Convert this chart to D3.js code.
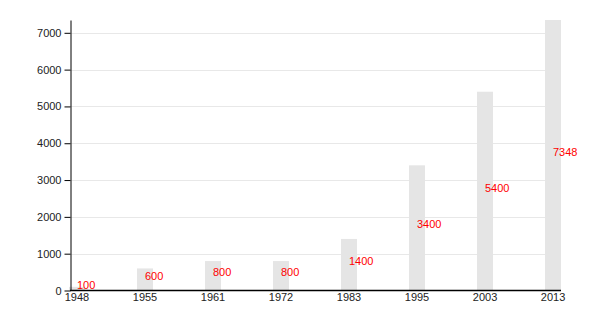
<!DOCTYPE html>
<html>
<head>
<meta charset="utf-8">
<script src="https://cdn.jsdelivr.net/npm/d3@7"></script>
<style>
  body { margin: 0; background: #fff; }
  text { font-family: "Liberation Sans", Arial, sans-serif; }
</style>
</head>
<body>
<script>
var years = ['1948', '1955', '1961', '1972', '1983', '1995', '2003', '2013'];
var population = [100, 600, 800, 800, 1400, 3400, 5400, 7348];
var yTicks = [0, 1000, 2000, 3000, 4000, 5000, 6000, 7000];

var width = 600, height = 310;
var plotLeft = 70, plotRight = 561, plotTop = 20, plotBottom = 290.5;

var svg = d3.select('body').append('svg')
    .attr('width', width)
    .attr('height', height);

var x = d3.scaleBand()
    .domain(years)
    .range([69, plotRight])
    .paddingInner(0.765)
    .paddingOuter(0);

var y = d3.scaleLinear()
    .domain([0, d3.max(population)])
    .range([plotBottom, plotTop]);

// grid lines
svg.selectAll('.grid')
    .data(yTicks.slice(1))
    .enter().append('line')
    .attr('class', 'grid')
    .attr('x1', plotLeft)
    .attr('x2', plotRight)
    .attr('y1', function(d) { return Math.round(y(d)) + 0.5; })
    .attr('y2', function(d) { return Math.round(y(d)) + 0.5; })
    .style('stroke', '#e8e8e8')
    .style('stroke-width', 1);

// bars
svg.selectAll('.bar')
    .data(population)
    .enter().append('rect')
    .attr('class', 'bar')
    .attr('x', function(d, i) { return x(years[i]); })
    .attr('y', function(d) { return y(d); })
    .attr('width', x.bandwidth())
    .attr('height', function(d) { return plotBottom - y(d); })
    .style('fill', '#e5e5e5');

// value labels
svg.selectAll('.val')
    .data(population)
    .enter().append('text')
    .attr('class', 'val')
    .attr('x', function(d, i) { return x(years[i]) + x.bandwidth() / 2; })
    .attr('y', function(d) { return (y(d) + plotBottom) / 2 + 0.5; })
    .style('font-size', '11px')
    .style('fill', '#ff0000')
    .text(function(d) { return d; });

// y axis
var yAxis = svg.append('g')
    .attr('transform', 'translate(' + (plotLeft + 0.5) + ',0)')
    .call(d3.axisLeft(y).tickValues(yTicks).tickFormat(d3.format('d'))
        .tickSize(6).tickSizeOuter(0).tickPadding(3));
yAxis.select('.domain').style('stroke', '#000');
yAxis.selectAll('.tick line').style('stroke', '#000');
yAxis.selectAll('.tick text')
    .style('font-size', '11px')
    .style('fill', '#222')
    .style('font-family', '"Liberation Sans", Arial, sans-serif');

// x axis
var xAxis = svg.append('g')
    .attr('transform', 'translate(0,' + plotBottom + ')')
    .call(d3.axisBottom(x).tickSize(0).tickPadding(3));
xAxis.select('.domain').remove();
xAxis.append('line')
    .attr('x1', plotLeft)
    .attr('x2', plotRight)
    .style('stroke', '#000')
    .style('stroke-width', 1.5);
xAxis.selectAll('.tick text')
    .style('font-size', '11px')
    .style('fill', '#222')
    .style('font-family', '"Liberation Sans", Arial, sans-serif');
</script>
</body>
</html>
